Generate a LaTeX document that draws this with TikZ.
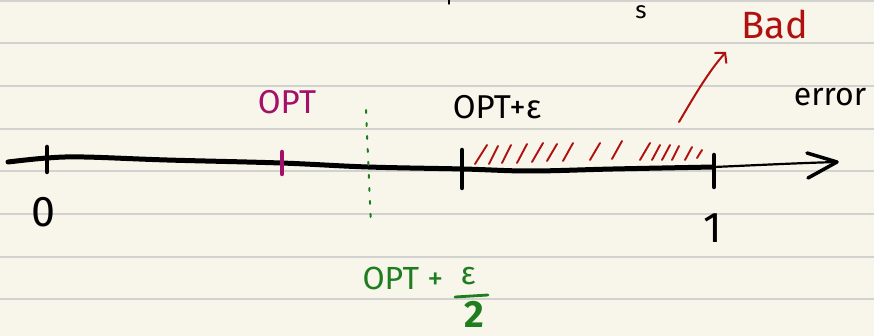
\documentclass[tikz,border=0pt]{standalone}
\usepackage{fontspec}
\setmainfont{Fira Sans}
\usetikzlibrary{arrows.meta}
\definecolor{paper}{HTML}{F8F6EA}
\definecolor{rulegray}{HTML}{D2D2D0}
\definecolor{optmag}{HTML}{A3106A}
\definecolor{okgreen}{HTML}{1E7D1E}
\definecolor{badred}{HTML}{B01010}
\begin{document}
\begin{tikzpicture}[x=1pt,y=-1pt, line cap=round, line join=round,
  rule/.style={draw=rulegray, line width=1.5pt},
  axisline/.style={line width=5pt},
  tickmark/.style={line width=4.5pt},
  hatch/.style={draw=badred, line width=1.9pt},
  lbl/.style={inner sep=0pt, anchor=center}]
\useasboundingbox (0,0) rectangle (874,336);
\fill[paper] (0,0) rectangle (874,336);
\foreach \y in {1,43,86,129,171,214,257,299} \draw[rule] (0,\y) -- (874,\y);

% fragments at the top
\node[lbl, font=\fontsize{24}{24}\selectfont] (frag) at (641,12) {s};
\draw[line width=1.5pt] (449,-2) -- (449,4);

% axis
\coordinate (a0) at (8,162);
\coordinate (t1) at (714,167);
\coordinate (tip) at (837,162);
\draw[axisline] plot[smooth, tension=0.6] coordinates {(a0) (47,158) (84,157) (167,160) (281,163) (368,167) (463,169) (530,171) (613,169) (t1)};
\draw[line width=2.2pt] (t1) .. controls (760,165) and (800,163) .. (tip);
\draw[line width=3.5pt] (807,153) -- (tip) -- (808,178);

% ticks
\draw[tickmark] (47,147) -- (47,172);
\draw[tickmark, optmag] (282,152) -- (282,174);
\draw[tickmark] (462,150) -- (462,188);
\draw[tickmark] (714,155) -- (714,187);

% green dotted marker
\draw[okgreen, line width=2pt, dash pattern=on 3pt off 10pt] (366,110) -- (371,226);

% hatching
\foreach \bx/\by/\tx/\ty in {475/164/487/145, 489/164/498/146, 502/163/511/145, 517/163/527/144,
  532/162/543/143, 547/161/557/144, 563/161/573/143, 590/160/600/143, 612/159/622/141,
  640/160/650/143, 652/160/660/145, 662/160/670/145, 672/160/679/146, 685/160/692/147, 697/158/702/150}
  \draw[hatch] (\bx,\by) -- (\tx,\ty);

% labels
\node[lbl, text=badred, font=\fontsize{38}{38}\selectfont] (bad) at (775,24) {Bad};
\coordinate (bs) at (679,122);
\coordinate (be) at (726,52);
\draw[badred, line width=2pt, -{Straight Barb[length=7pt,width=16pt]}] (bs) .. controls (692,100) and (708,72) .. (be);

\node[lbl, font=\fontsize{32}{32}\selectfont] (err) at (830,97) {error};
\node[lbl, font=\fontsize{33}{33}\selectfont] (opte) at (497,107) {OPT+ε};
\node[lbl, text=optmag, font=\fontsize{33}{33}\selectfont] (opt) at (287,102) {OPT};
\node[lbl, font=\fontsize{43}{43}\selectfont] (zero) at (43,212) {0};
\node[lbl, font=\fontsize{43}{43}\selectfont] (one) at (713,228) {1};

\node[lbl, text=okgreen, font=\fontsize{32}{32}\selectfont] (optg) at (403,278) {OPT +};
\node[lbl, text=okgreen, font=\fontsize{32}{32}\selectfont] (epsg) at (468,276) {ε};
\draw[okgreen, line width=2.8pt] (455,297) -- (488,295);
\node[lbl, text=okgreen, font=\fontsize{38}{38}\selectfont\bfseries] (twog) at (474,314) {2};
\end{tikzpicture}
\end{document}
